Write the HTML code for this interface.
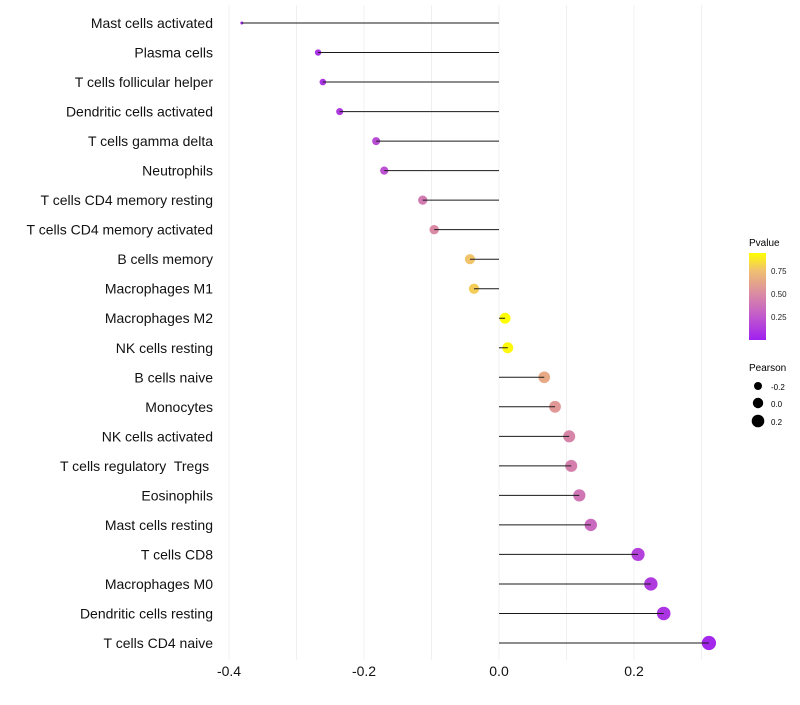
<!DOCTYPE html>
<html><head><meta charset="utf-8"><style>
body{margin:0;background:#fff;}
svg{font-family:"Liberation Sans",sans-serif;}
#ylabels text{white-space:pre;}
</style></head><body>
<svg id="chart" width="800" height="700" viewBox="0 0 800 700">
<defs><linearGradient id="pg" x1="0" y1="1" x2="0" y2="0">
<stop offset="0" stop-color="#a020f0"/><stop offset="0.3" stop-color="#c45fc8"/><stop offset="0.55" stop-color="#dc8fa0"/><stop offset="0.8" stop-color="#f0c070"/><stop offset="1" stop-color="#ffff00"/></linearGradient></defs>
<g id="grid"></g>
<g id="points"></g>
<g id="stems"></g>
<g id="ylabels"></g>
<g id="xlabels"></g>
<g>
<text x="749" y="246" font-size="10" fill="#000">Pvalue</text>
<rect x="749" y="253" width="17" height="87" fill="url(#pg)"/>
<text x="771" y="274" font-size="8" fill="#222">0.75</text>
<text x="771" y="297" font-size="8" fill="#222">0.50</text>
<text x="771" y="320" font-size="8" fill="#222">0.25</text>
</g>
<g>
<text x="749" y="371" font-size="10" fill="#000">Pearson</text>
<circle cx="758" cy="386" r="4" fill="#000"/><text x="771" y="390" font-size="8">-0.2</text>
<circle cx="758" cy="403" r="5.2" fill="#000"/><text x="771" y="407" font-size="8">0.0</text>
<circle cx="758" cy="421" r="6.3" fill="#000"/><text x="771" y="425" font-size="8">0.2</text>
</g>
</svg>
<script>
const categories=["Mast cells activated","Plasma cells","T cells follicular helper","Dendritic cells activated","T cells gamma delta","Neutrophils","T cells CD4 memory resting","T cells CD4 memory activated","B cells memory","Macrophages M1","Macrophages M2","NK cells resting","B cells naive","Monocytes","NK cells activated","T cells regulatory  Tregs ","Eosinophils","Mast cells resting","T cells CD8","Macrophages M0","Dendritic cells resting","T cells CD4 naive"];
const pearson=[-0.381,-0.268,-0.261,-0.236,-0.182,-0.170,-0.113,-0.096,-0.043,-0.037,0.009,0.013,0.067,0.083,0.104,0.107,0.119,0.136,0.206,0.225,0.244,0.311];
const pvalues=[0.05,0.08,0.09,0.12,0.2,0.22,0.42,0.5,0.77,0.8,0.95,0.93,0.65,0.57,0.47,0.45,0.4,0.34,0.15,0.12,0.09,0.03];
const xTicks=[-0.4,-0.2,0.0,0.2];
const xTickLabels=["-0.4","-0.2","0.0","0.2"];
const gridVals=[-0.4,-0.3,-0.2,-0.1,0,0.1,0.2,0.3];
const NS="http://www.w3.org/2000/svg";
const xs=v=>499+v*675;
const ys=i=>23+i*(620/21);
const rs=v=>Math.sqrt(Math.max(1,29+70*v));
const stops=[[0,[160,32,240]],[0.3,[196,95,200]],[0.55,[220,143,160]],[0.8,[240,192,112]],[1,[255,255,0]]];
function col(p){const t=Math.min(1,Math.max(0,p/0.95));for(let k=1;k<stops.length;k++){if(t<=stops[k][0]){const a=stops[k-1],b=stops[k],f=(t-a[0])/(b[0]-a[0]);return "rgb("+a[1].map((c,j)=>Math.round(c+(b[1][j]-c)*f)).join(",")+")";}}return "rgb(255,255,0)";}
function mk(tag,at,parent){const e=document.createElementNS(NS,tag);for(const k in at)e.setAttribute(k,at[k]);parent.appendChild(e);return e;}
const grid=document.getElementById('grid'),pts=document.getElementById('points'),stems=document.getElementById('stems'),yl=document.getElementById('ylabels'),xl=document.getElementById('xlabels');
gridVals.forEach(v=>{const l=mk('line',{x1:xs(v),x2:xs(v),y1:5,y2:660,stroke:'#f0f0f0','stroke-width':1},grid);

});
categories.forEach((c,i)=>{
const y=ys(i);
const p=mk('circle',{cx:xs(pearson[i]),cy:y,r:rs(pearson[i]),fill:col(pvalues[i])},pts);


const s=mk('line',{x1:xs(0),x2:xs(pearson[i]),y1:y,y2:y,stroke:'#1a1a1a','stroke-width':1},stems);


const t=mk('text',{x:213,y:y+5,'text-anchor':'end','font-size':14,fill:'#111'},yl);t.textContent=c;


});
xTicks.forEach((v,i)=>{const t=mk('text',{x:xs(v),y:676,'text-anchor':'middle','font-size':14,fill:'#111'},xl);t.textContent=xTickLabels[i];

});
</script>
</body></html>
